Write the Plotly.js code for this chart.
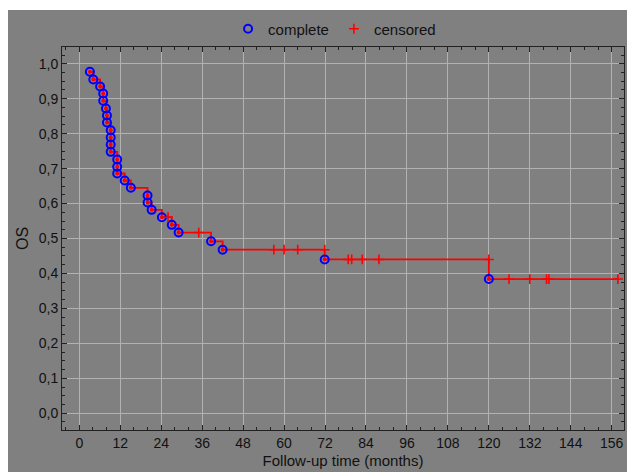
<!DOCTYPE html>
<html><head><meta charset="utf-8">
<script src="https://cdn.plot.ly/plotly-3.0.1.min.js"></script>
<style>html,body{margin:0;padding:0;background:#fff;overflow:hidden;} #chart{position:absolute;left:8px;top:10px;width:619px;height:462px;}</style>
</head><body><div id="chart"></div>
<script>
// Kaplan-Meier: events (complete) and censored observations
const eventTime = [3.1, 4.1, 6.1, 7.0, 7.0, 7.8, 8.1, 8.1, 9.2, 9.2, 9.2, 9.2, 11.1, 11.1, 11.1, 13.3, 15.1, 20.0, 20.0, 21.2, 24.2, 27.1, 29.1, 38.6, 42.0, 71.9, 120.0];
const eventS    = [0.977, 0.955, 0.935, 0.915, 0.894, 0.872, 0.852, 0.832, 0.810, 0.789, 0.769, 0.748, 0.726, 0.705, 0.686, 0.666, 0.645, 0.623, 0.603, 0.582, 0.561, 0.539, 0.517, 0.492, 0.468, 0.440, 0.384];
const censTime  = [26.0, 35.0, 57.0, 60.0, 64.0, 71.9, 78.8, 79.8, 82.9, 87.8, 120.0, 125.9, 132.0, 136.9, 137.6, 157.8];
const censS     = [0.561, 0.517, 0.468, 0.468, 0.468, 0.468, 0.440, 0.440, 0.440, 0.440, 0.440, 0.384, 0.384, 0.384, 0.384, 0.384];
const xTicks = [0, 12, 24, 36, 48, 60, 72, 84, 96, 108, 120, 132, 144, 156];
const yTicks = [0.0, 0.1, 0.2, 0.3, 0.4, 0.5, 0.6, 0.7, 0.8, 0.9, 1.0];

// step line through all observations, sorted by time then survival descending
const pts = eventTime.map((t,i)=>[t,eventS[i]]).concat(censTime.map((t,i)=>[t,censS[i]]));
pts.sort((a,b)=> a[0]-b[0] || b[1]-a[1]);
const lineX = pts.map(p=>p[0]), lineY = pts.map(p=>p[1]);

const traces = [
  {x: lineX, y: lineY, mode: 'lines', line: {color: '#ff0000', width: 1.8, shape: 'hv'}, showlegend: false, hoverinfo: 'skip'},
  {x: eventTime, y: eventS, mode: 'markers', marker: {symbol: 'circle', size: 4, color: '#ff0000'}, showlegend: false, hoverinfo: 'skip'},
  {x: eventTime, y: eventS, mode: 'markers', name: 'complete', marker: {symbol: 'circle-open', size: 8, color: '#0000ff', line: {width: 2, color: '#0000ff'}}},
  {x: censTime, y: censS, mode: 'markers', name: 'censored', marker: {symbol: 'cross-thin', size: 7, color: '#ff0000', line: {width: 1.6, color: '#ff0000'}}}
];

const axisCommon = {
  showgrid: true, gridcolor: '#b2b2b2', gridwidth: 1, zeroline: false,
  showline: true, linecolor: '#222', linewidth: 1, mirror: 'ticks',
  ticks: 'inside', ticklen: 5, tickcolor: '#222', tickwidth: 1,
  tickfont: {size: 14, color: '#111'}
};

const layout = {
  width: 619, height: 462,
  paper_bgcolor: '#808080', plot_bgcolor: '#808080',
  separators: ',.',
  font: {family: 'Liberation Sans, Arial, sans-serif', color: '#111', size: 14},
  margin: {l: 54, r: 3, t: 34, b: 42},
  showlegend: true,
  legend: {orientation: 'h', x: 0.485, xanchor: 'center', y: 1.047, yanchor: 'middle', font: {size: 15, color: '#111'}, bgcolor: 'rgba(0,0,0,0)'},
  xaxis: Object.assign({}, axisCommon, {
    range: [-5.07, 159.6], tickmode: 'array', tickvals: xTicks, ticktext: xTicks.map(String),
    minor: {dtick: 4, tick0: 0, ticks: 'inside', ticklen: 3, tickcolor: '#222', showgrid: false},
    title: {text: 'Follow-up time (months)', font: {size: 15, color: '#111'}, standoff: 5}
  }),
  yaxis: Object.assign({}, axisCommon, {
    range: [-0.048, 1.048], tickmode: 'array', tickvals: yTicks, ticktext: yTicks.map(v=>v.toFixed(1).replace('.', ',')),
    minor: {dtick: 0.025, tick0: 0, ticks: 'inside', ticklen: 3, tickcolor: '#222', showgrid: false},
    title: {text: 'OS', font: {size: 16, color: '#111'}, standoff: 6}
  })
};

Plotly.newPlot('chart', traces, layout, {displayModeBar: false, staticPlot: true});
</script>
</body></html>
